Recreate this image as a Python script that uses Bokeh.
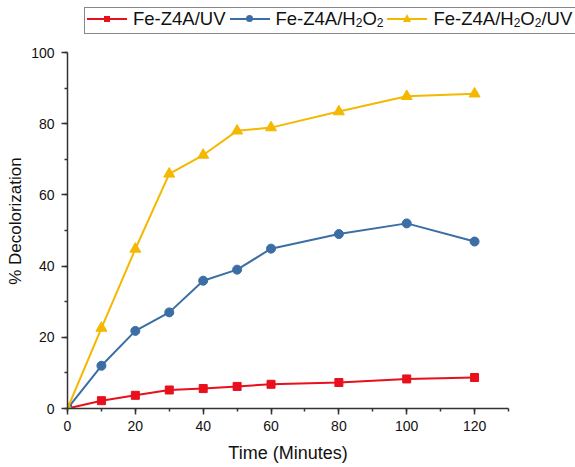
from bokeh.plotting import figure
from bokeh.layouts import column
from bokeh.models import Div, Range1d, SingleIntervalTicker
from bokeh.embed import file_html
from bokeh.resources import INLINE

time_min = [0, 10, 20, 30, 40, 50, 60, 80, 100, 120]
uv = [0, 2.2, 3.7, 5.2, 5.6, 6.2, 6.8, 7.3, 8.3, 8.7]
h2o2 = [0, 12.0, 21.8, 27.0, 35.9, 39.0, 44.9, 49.0, 52.0, 46.9]
h2o2_uv = [0, 22.6, 44.8, 65.9, 71.2, 78.0, 78.9, 83.4, 87.7, 88.4]

labels_html = ["Fe-Z4A/UV",
               "Fe-Z4A/H<sub>2</sub>O<sub>2</sub>",
               "Fe-Z4A/H<sub>2</sub>O<sub>2</sub>/UV"]
colors = ["#e8101c", "#3a6ea5", "#f5b800"]
markers = ["square", "circle", "triangle"]
sizes = [8, 9, 11]

FONT = "Liberation Sans"
LEG_H = 44

# ---------- legend strip (HTML, sits above the plot frame) ----------
def marker_html(kind, c):
    if kind == "square":
        return (f'<span style="position:absolute;left:17px;top:3px;width:6px;height:6px;'
                f'background:{c};"></span>')
    if kind == "circle":
        return (f'<span style="position:absolute;left:16.5px;top:2.5px;width:7px;height:7px;'
                f'border-radius:50%;background:{c};"></span>')
    return (f'<span style="position:absolute;left:15.5px;top:1.5px;width:0;height:0;'
            f'border-left:4.5px solid transparent;border-right:4.5px solid transparent;'
            f'border-bottom:8px solid {c};"></span>')

sub_css = "font-size:12px;vertical-align:-2px;line-height:0;"
items_html = ""
for lab, c, m in zip(labels_html, colors, markers):
    lab = lab.replace("<sub>", f'<sub style="{sub_css}">')
    items_html += (
        '<span style="display:inline-flex;align-items:center;margin-right:4px;">'
        '<span style="position:relative;display:inline-block;width:40px;height:16px;">'
        f'<span style="position:absolute;left:0;top:5px;width:40px;height:2px;background:{c};"></span>'
        f'{marker_html(m, c)}</span>'
        f'<span style="margin-left:6px;line-height:1;position:relative;top:-1.5px;">{lab}</span>'
        '</span>'
    )

legend_html = (
    f'<div style="position:relative;width:575px;height:{LEG_H}px;overflow:hidden;'
    f"font-family:'{FONT}',Arial,sans-serif;font-size:18.5px;color:#111111;\">"
    '<div style="position:absolute;left:84px;top:7px;height:27px;width:620px;'
    'border:1px solid #888888;background:#ffffff;display:flex;align-items:center;'
    'padding-left:2px;white-space:nowrap;">'
    f'{items_html}</div></div>'
)
legend_div = Div(text=legend_html, width=575, height=LEG_H, margin=0)

# ---------- main plot ----------
p = figure(width=575, height=467 - LEG_H, output_backend="svg", toolbar_location=None,
           x_range=Range1d(0, 130), y_range=Range1d(0, 100),
           min_border_left=67, min_border_right=67, min_border_top=52 - LEG_H,
           min_border_bottom=59)
p.outline_line_color = None
p.xgrid.visible = False
p.ygrid.visible = False
p.background_fill_color = "white"
p.border_fill_color = "white"

for ys, c, m, s in zip([uv, h2o2, h2o2_uv], colors, markers, sizes):
    p.line(time_min, ys, line_color=c, line_width=2)
    p.scatter(time_min, ys, marker=m, size=s, fill_color=c, line_color=c)

for ax in (p.xaxis[0], p.yaxis[0]):
    ax.axis_line_color = "#333333"
    ax.axis_line_width = 1.5
    ax.major_tick_line_color = "#333333"
    ax.minor_tick_line_color = "#333333"
    ax.major_tick_line_width = 1.5
    ax.minor_tick_line_width = 1.5
    ax.major_tick_in = 0
    ax.major_tick_out = 6
    ax.minor_tick_in = 0
    ax.minor_tick_out = 3
    ax.major_label_text_font = FONT
    ax.major_label_text_font_size = "14px"
    ax.major_label_text_color = "#111111"
    ax.axis_label_text_font = FONT
    ax.axis_label_text_font_style = "normal"
    ax.axis_label_text_color = "#111111"

p.xaxis.ticker = SingleIntervalTicker(interval=20, num_minor_ticks=2)
p.yaxis.ticker = SingleIntervalTicker(interval=20, num_minor_ticks=2)
p.xaxis.axis_label = "Time (Minutes)"
p.yaxis.axis_label = "\u00a0\u00a0\u00a0\u00a0% Decolorization"
p.xaxis.axis_label_text_font_size = "18px"
p.yaxis.axis_label_text_font_size = "17px"
p.xaxis.major_label_standoff = 6
p.yaxis.major_label_standoff = 7
p.xaxis.axis_label_standoff = 9
p.yaxis.axis_label_standoff = 3

layout = column(legend_div, p, spacing=0)
open("out.html", "w").write(file_html(layout, INLINE))
